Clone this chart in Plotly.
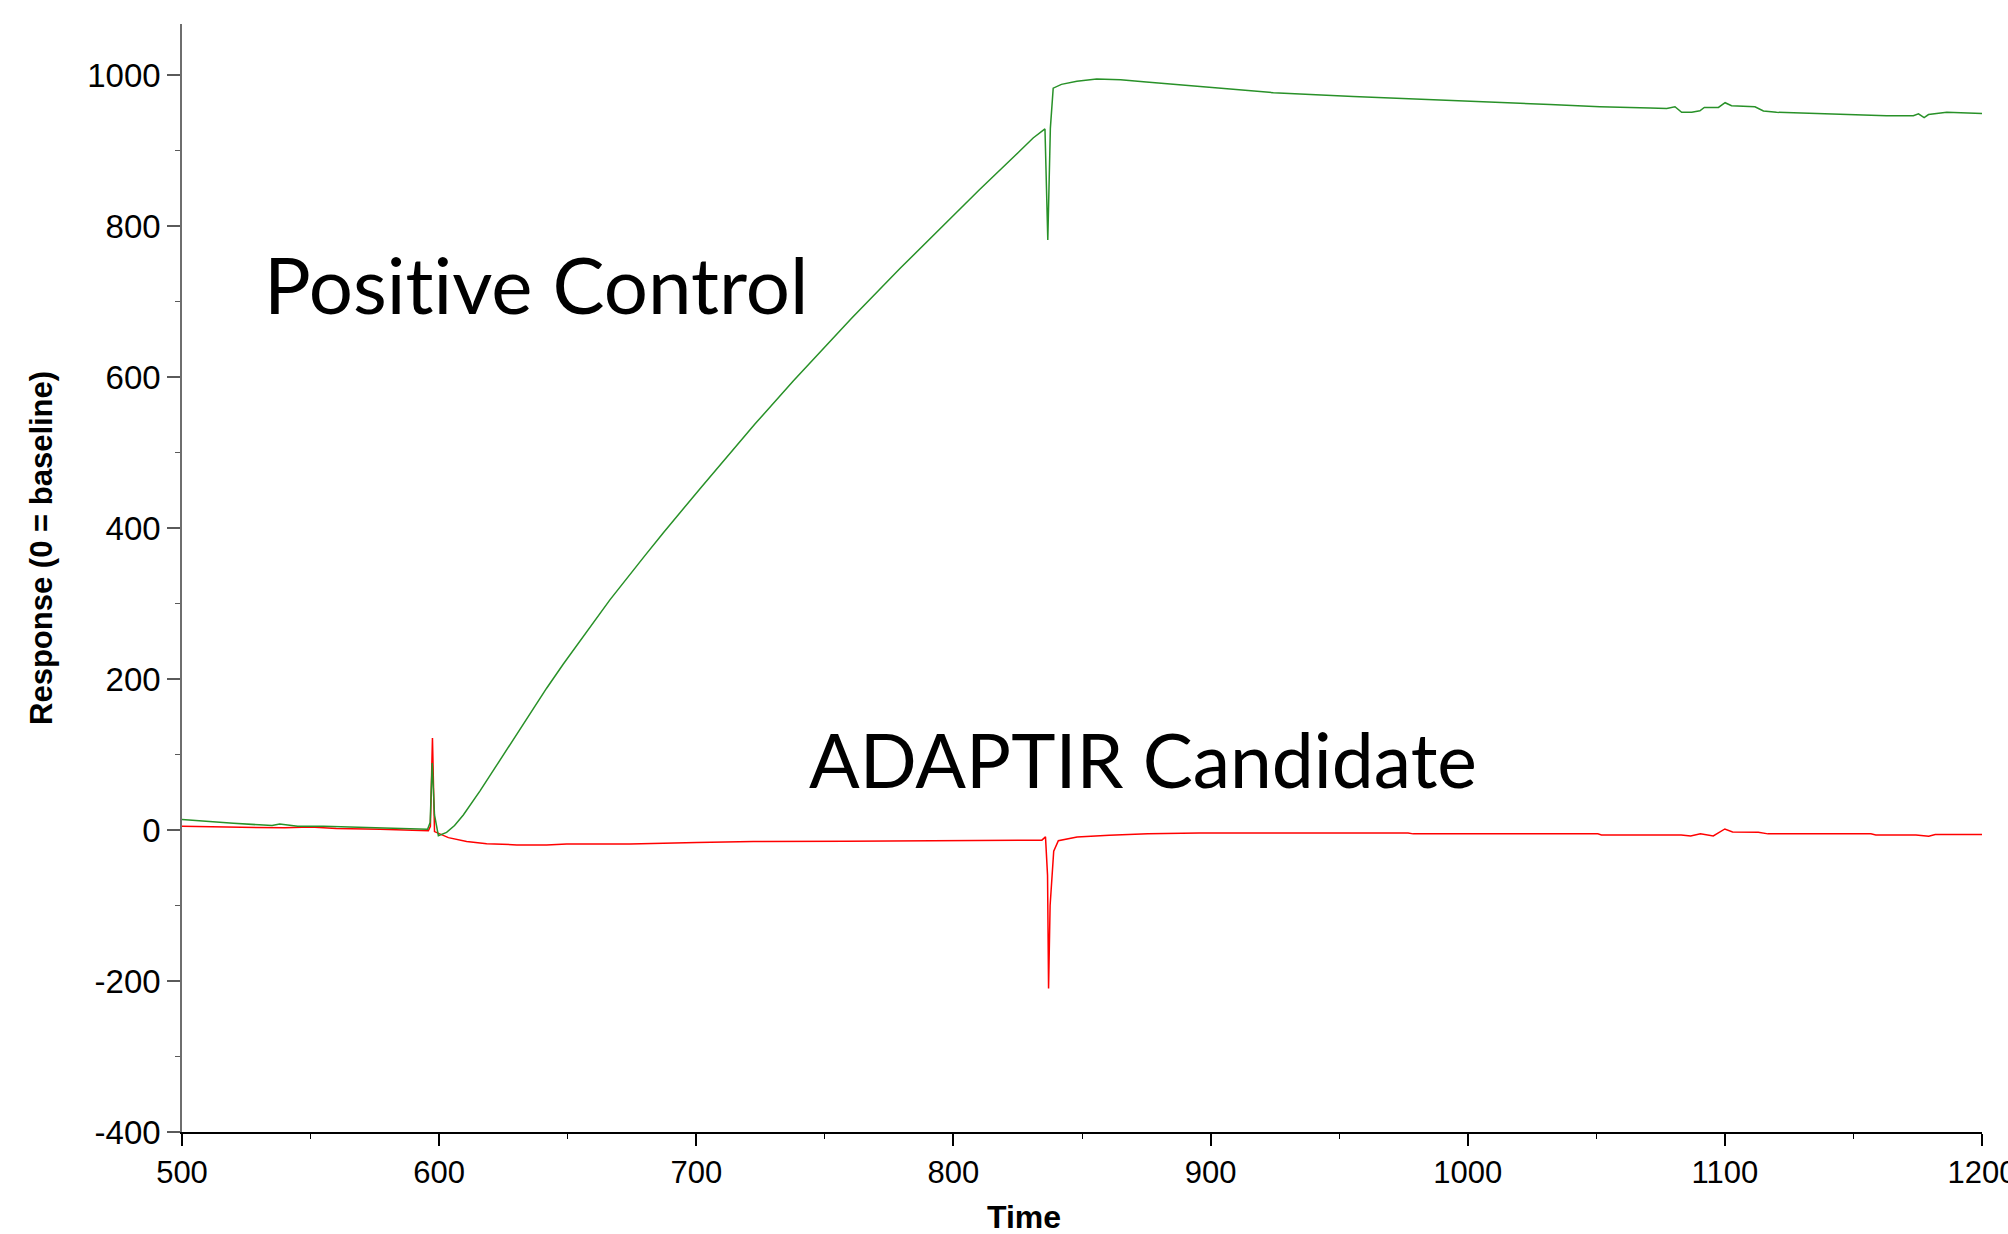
import plotly.graph_objects as go

# ---- data ----
pos_time = [500, 510, 520, 530, 535, 538, 545, 555, 565, 577, 590, 595.5, 596.5, 597.3, 598.2,
            599.7, 602.9, 606, 609.4, 615.9, 622.4, 628.8, 635.3, 641.8, 648.3, 654.8, 666.4, 680.1,
            687.2, 702.1, 715.7, 722.8, 737.7, 752, 760.4, 779.2, 797.4, 810, 825.9, 831, 835.6,
            836.7, 837.7, 838.8, 842, 848, 855.7, 865, 875, 889.4, 905, 924.4, 955.5, 981.5, 1000,
            1020.3, 1032, 1051.4, 1070.9, 1077.4, 1080.6, 1083.2, 1087.1, 1090.3, 1092, 1097.5,
            1100.1, 1102.6, 1111.7, 1115, 1120.1, 1139.6, 1162.9, 1173.3, 1175.3, 1177.5, 1179.2,
            1186.3, 1200]
pos_resp = [14, 11, 9, 7, 6, 8, 5, 5, 4, 3, 1.5, 1, 10, 89, 20,
            -7.5, -3, 6, 20, 52, 86, 120, 154, 188, 220, 251, 305, 364,
            394, 455, 510, 538, 595, 648, 678, 744, 806, 848, 900, 917, 929,
            782, 930, 983, 988, 992, 995, 994, 991, 987, 982, 977, 972, 968, 965.5,
            963, 961.4, 958.4, 956.6, 956.2, 958.4, 951, 951, 953, 957.5, 957.5,
            963.7, 959.7, 958.4, 952.7, 951, 949, 946.5, 946.5, 949, 944, 948,
            951, 949.5]

cand_time = [500, 520, 540, 550, 560, 577, 595.8, 596.6, 597.4, 598.2, 599.7, 603.6, 610.7, 618.5,
             630.2, 641.8, 649.6, 674.2, 700.2, 722.2, 758.5, 771.4, 818.1, 834.4, 835.8, 836.6,
             837, 837.6, 839, 840.8, 848.1, 860.6, 875.6, 895.6, 976.8, 978.8, 1050.6, 1052, 1083,
             1086.7, 1090.5, 1095.5, 1100, 1103, 1113, 1116.8, 1156.8, 1158.7, 1174.3, 1179.3,
             1181.8, 1200]
cand_resp = [5, 4, 3, 4, 2, 1, -1, 5, 122, -2, -4, -10, -15, -18,
             -19.6, -19.6, -18.3, -18.3, -16.6, -15.2, -14.7, -14.4, -13.9, -13.3, -9, -60,
             -210, -100, -28, -14, -9, -6.7, -5, -3.7, -3.7, -5, -5, -6.4, -6.4,
             -7.7, -5, -7.7, 1.5, -2.4, -2.9, -5, -5, -6.4, -6.4, -8.2,
             -6, -6]

x_ticks = [500, 600, 700, 800, 900, 1000, 1100, 1200]
x_labels = ["500", "600", "700", "800", "900", "1000", "1100", "1200"]
y_ticks = [-400, -200, 0, 200, 400, 600, 800, 1000]
y_labels = ["-400", "-200", "0", "200", "400", "600", "800", "1000"]

fig = go.Figure()
fig.add_trace(go.Scatter(x=cand_time, y=cand_resp, mode="lines", name="ADAPTIR Candidate",
                         line=dict(color="rgb(255,0,0)", width=1.5)))
fig.add_trace(go.Scatter(x=pos_time, y=pos_resp, mode="lines", name="Positive Control",
                         line=dict(color="rgb(40,145,40)", width=1.5)))

arial = "Liberation Sans, Arial, sans-serif"

fig.update_layout(
    width=2008, height=1234,
    margin=dict(l=182, r=26, t=24, b=102, autoexpand=False),
    paper_bgcolor="white", plot_bgcolor="white",
    showlegend=False,
    xaxis=dict(range=[500, 1200], tickmode="array", tickvals=x_ticks, ticktext=x_labels,
               showgrid=False, zeroline=False, showline=True, linecolor="black", linewidth=1.5,
               ticks="outside", ticklen=12, tickwidth=1.5, tickcolor="black",
               tickfont=dict(family=arial, size=31, color="black"),
               ticklabeloverflow="allow",
               minor=dict(tick0=500, dtick=50, ticks="outside", ticklen=5, tickcolor="black",
                          tickwidth=1, showgrid=False)),
    yaxis=dict(range=[-400, 1068], tickmode="array", tickvals=y_ticks, ticktext=y_labels,
               showgrid=False, zeroline=False, showline=True, linecolor="rgb(110,110,110)",
               linewidth=1.5,
               ticks="outside", ticklen=13, tickwidth=1.5, tickcolor="rgb(90,90,90)",
               tickfont=dict(family=arial, size=33, color="black"),
               ticklabeloverflow="allow",
               minor=dict(tick0=-400, dtick=100, ticks="outside", ticklen=5,
                          tickcolor="rgb(90,90,90)", tickwidth=1, showgrid=False)),
)

fig.add_annotation(text="<b>Response (0 = baseline)</b>", xref="paper", yref="paper",
                   x=-0.0778, y=0.5271, xanchor="center", yanchor="middle", textangle=-90,
                   showarrow=False, font=dict(family=arial, size=31, color="black"))
fig.add_annotation(text="<b>Time</b>", xref="paper", yref="paper",
                   x=0.468, y=-0.0765, xanchor="center", yanchor="middle", showarrow=False,
                   font=dict(family=arial, size=32, color="black"))

nolig = "font-variant-ligatures: none; font-feature-settings: 'liga' 0"
fig.add_annotation(text='<span style="%s">Positive Control</span>' % nolig,
                   xref="paper", yref="paper",
                   x=0.0444, y=0.7650, xanchor="left", yanchor="middle", showarrow=False,
                   font=dict(family="Lato, Noto Sans, sans-serif", size=78, color="black"))
fig.add_annotation(text='<span style="%s">ADAPTIR Candidate</span>' % nolig,
                   xref="paper", yref="paper",
                   x=0.347, y=0.3370, xanchor="left", yanchor="middle", showarrow=False,
                   font=dict(family="Lato, Noto Sans, sans-serif", size=75, color="black"))

fig.write_html("out.html")
